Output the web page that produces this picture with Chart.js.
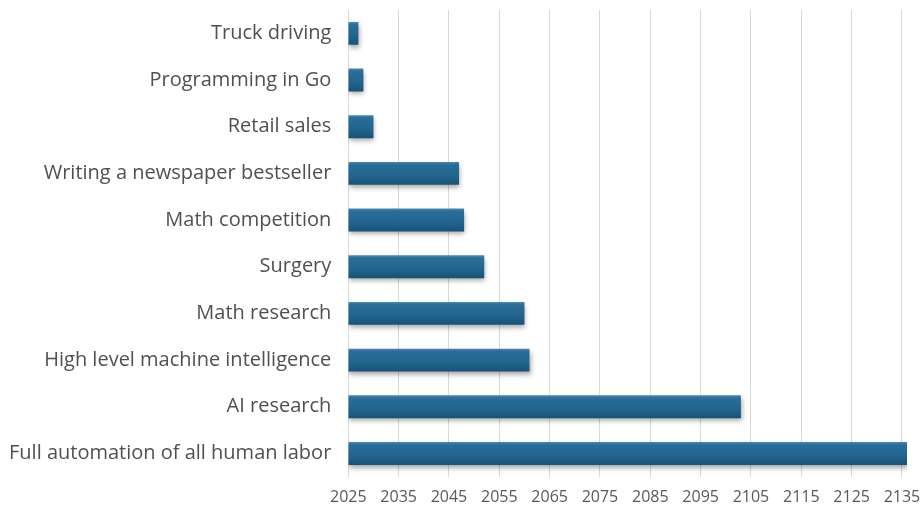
<!DOCTYPE html>
<html>
<head>
<meta charset="utf-8">
<script src="https://cdn.jsdelivr.net/npm/chart.js@4.4.1/dist/chart.umd.min.js"></script>
<style>
html,body{margin:0;padding:0;background:#fff;}
#wrap{width:924px;height:508px;position:relative;}
</style>
</head>
<body>
<div id="wrap"><canvas id="c"></canvas></div>
<script>
const categories = [
  "Truck driving",
  "Programming in Go",
  "Retail sales",
  "Writing a newspaper bestseller",
  "Math competition",
  "Surgery",
  "Math research",
  "High level machine intelligence",
  "AI research",
  "Full automation of all human labor"
];
const years = [2027, 2028, 2030, 2047, 2048, 2052, 2060, 2061, 2103, 2136];
const startYear = 2025;
const tickYears = [2025, 2035, 2045, 2055, 2065, 2075, 2085, 2095, 2105, 2115, 2125, 2135];

const barStyle = {
  id: 'barStyle',
  beforeDatasetsDraw(chart) {
    const ctx = chart.ctx;
    chart.getDatasetMeta(0).data.forEach(b => {
      const h = b.height;
      const g = ctx.createLinearGradient(0, b.y - h/2, 0, b.y + h/2);
      g.addColorStop(0, '#4a88b0');
      g.addColorStop(0.12, '#2a6d98');
      g.addColorStop(0.6, '#22658f');
      g.addColorStop(1, '#185275');
      b.options.backgroundColor = g;
    });
    ctx.save();
    ctx.shadowColor = 'rgba(0,0,0,0.35)';
    ctx.shadowBlur = 5;
    ctx.shadowOffsetX = 1;
    ctx.shadowOffsetY = 3;
  },
  afterDatasetsDraw(chart) {
    chart.ctx.restore();
  }
};

new Chart(document.getElementById('c'), {
  type: 'bar',
  data: {
    labels: categories,
    datasets: [{
      data: years.map(v => [startYear, v]),
      backgroundColor: () => '#22658f',
      borderWidth: 0,
      categoryPercentage: 1,
      barPercentage: 0.49
    }]
  },
  options: {
    indexAxis: 'y',
    responsive: true,
    maintainAspectRatio: false,
    animation: false,
    layout: { padding: { top: 10, right: 17, bottom: -10, left: -8 } },
    plugins: { legend: { display: false }, tooltip: { enabled: false } },
    scales: {
      x: {
        min: 2025,
        max: 2136,
        afterBuildTicks(scale) {
          scale.ticks = tickYears.map(v => ({ value: v }));
        },
        afterFit(scale) { scale.paddingLeft = 0; scale.paddingRight = 0; },
        grid: { color: '#d9d9d9', lineWidth: 1, drawTicks: false },
        border: { display: false },
        ticks: {
          color: '#595959',
          font: { family: 'Open Sans', size: 16 },
          padding: 11,
          maxRotation: 0,
          autoSkip: false,
          callback: v => String(v)
        }
      },
      y: {
        afterFit(scale) { scale.paddingTop = 0; scale.paddingBottom = 0; },
        grid: { display: false, drawTicks: false },
        border: { display: true, color: '#d9d9d9' },
        ticks: {
          color: '#505050',
          font: { family: 'Open Sans', size: 20 },
          padding: 17
        }
      }
    }
  },
  plugins: [barStyle]
});
</script>
</body>
</html>
